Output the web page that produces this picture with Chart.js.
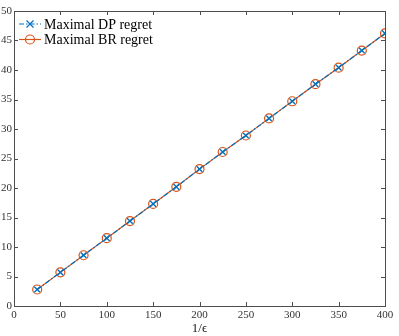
<!DOCTYPE html>
<html>
<head>
<meta charset="utf-8">
<script src="https://cdn.jsdelivr.net/npm/chart.js@4.4.0/dist/chart.umd.min.js"></script>
<style>
  html, body { margin: 0; padding: 0; background: #fff; }
  #wrap { width: 399px; height: 336px; }
</style>
</head>
<body>
<div id="wrap"><canvas id="regretChart" width="399" height="336"></canvas></div>
<script>
const invEps = [25, 50, 75, 100, 125, 150, 175, 200, 225, 250, 275, 300, 325, 350, 375, 400];
const dpRegret = [2.8, 5.7, 8.6, 11.5, 14.4, 17.3, 20.2, 23.2, 26.1, 28.9, 31.8, 34.7, 37.6, 40.4, 43.3, 46.2];
const brRegret = [2.8, 5.7, 8.6, 11.5, 14.4, 17.3, 20.2, 23.2, 26.1, 28.9, 31.8, 34.7, 37.6, 40.4, 43.3, 46.2];
const xTicks = [0, 50, 100, 150, 200, 250, 300, 350, 400];
const yTicks = [0, 5, 10, 15, 20, 25, 30, 35, 40, 45, 50];

const blue = '#0072BD';
const orange = '#D95319';
const axisColor = '#4d4d4d';
const serif = "'Liberation Serif', 'DejaVu Serif', serif";

// box + inward ticks, MATLAB style
const boxPlugin = {
    id: 'boxPlugin',
    afterDraw(chart) {
        const { ctx, chartArea: a, scales } = chart;
        ctx.save();
        ctx.strokeStyle = axisColor;
        ctx.lineWidth = 1;
        ctx.strokeRect(a.left + 0.5, a.top + 0.5, a.right - a.left, a.bottom - a.top);
        ctx.beginPath();
        xTicks.forEach(v => {
            const px = Math.round(scales.x.getPixelForValue(v)) + 0.5;
            ctx.moveTo(px, a.bottom); ctx.lineTo(px, a.bottom - 4);
            ctx.moveTo(px, a.top); ctx.lineTo(px, a.top + 4);
        });
        yTicks.forEach(v => {
            const py = Math.round(scales.y.getPixelForValue(v)) + 0.5;
            ctx.moveTo(a.left, py); ctx.lineTo(a.left + 4, py);
            ctx.moveTo(a.right, py); ctx.lineTo(a.right - 4, py);
        });
        ctx.stroke();
        ctx.restore();
    }
};

// legend drawn inside the axes, top-left
const insideLegend = {
    id: 'insideLegend',
    afterDraw(chart) {
        const { ctx, chartArea: a } = chart;
        ctx.save();
        ctx.font = "14px " + serif;
        ctx.fillStyle = '#000';
        ctx.textBaseline = 'middle';
        chart.data.datasets.forEach((ds, i) => {
            const y = a.top + 13 + i * 15.5;
            const x0 = a.left + 5, x1 = a.left + 27;
            ctx.strokeStyle = ds.borderColor;
            ctx.lineWidth = 1.2;
            ctx.setLineDash(ds.borderDash || []);
            ctx.beginPath(); ctx.moveTo(x0, y); ctx.lineTo(x1, y); ctx.stroke();
            ctx.setLineDash([]);
            const cx = (x0 + x1) / 2;
            ctx.beginPath();
            if (ds.pointStyle === 'circle') {
                ctx.arc(cx, y, 4.5, 0, Math.PI * 2);
            } else {
                ctx.moveTo(cx - 3.5, y - 3.5); ctx.lineTo(cx + 3.5, y + 3.5);
                ctx.moveTo(cx - 3.5, y + 3.5); ctx.lineTo(cx + 3.5, y - 3.5);
            }
            ctx.stroke();
            ctx.fillText(ds.label, x1 + 3, y + 1);
        });
        ctx.restore();
    }
};

new Chart(document.getElementById('regretChart'), {
    type: 'line',
    data: {
        datasets: [
            {
                label: 'Maximal DP regret',
                data: invEps.map((x, i) => ({ x: x, y: dpRegret[i] })),
                borderColor: blue,
                backgroundColor: 'transparent',
                borderWidth: 1.2,
                borderDash: [5, 2, 1.5, 2],
                pointStyle: 'crossRot',
                pointRadius: 4,
                pointBorderWidth: 1.4,
                pointBorderColor: blue,
                order: 0
            },
            {
                label: 'Maximal BR regret',
                data: invEps.map((x, i) => ({ x: x, y: brRegret[i] })),
                borderColor: orange,
                backgroundColor: 'transparent',
                borderWidth: 1.2,
                pointStyle: 'circle',
                pointRadius: 4.5,
                pointBorderWidth: 1.2,
                pointBorderColor: orange,
                pointBackgroundColor: 'transparent',
                order: 1
            }
        ]
    },
    options: {
        responsive: false,
        animation: false,
        layout: { padding: { top: 11, right: 14, left: 0, bottom: 0 } },
        scales: {
            x: {
                type: 'linear',
                min: 0, max: 400,
                afterBuildTicks: s => { s.ticks = xTicks.map(v => ({ value: v })); },
                afterFit: s => { s.height = 30; },
                grid: { display: false, drawTicks: false, tickLength: 0 },
                border: { display: false },
                ticks: { font: { family: serif, size: 11 }, color: '#333', padding: 3, maxRotation: 0 },
                title: { display: true, text: '1/ϵ', font: { family: serif, size: 13 }, color: '#222', padding: { top: 0, bottom: 0 } }
            },
            y: {
                min: 0, max: 50,
                afterBuildTicks: s => { s.ticks = yTicks.map(v => ({ value: v })); },
                afterFit: s => { s.width = 14; },
                grid: { display: false, drawTicks: false, tickLength: 0 },
                border: { display: false },
                ticks: { font: { family: serif, size: 11 }, color: '#333', padding: 2 }
            }
        },
        plugins: {
            legend: { display: false },
            tooltip: { enabled: false }
        }
    },
    plugins: [boxPlugin, insideLegend]
});
</script>
</body>
</html>
